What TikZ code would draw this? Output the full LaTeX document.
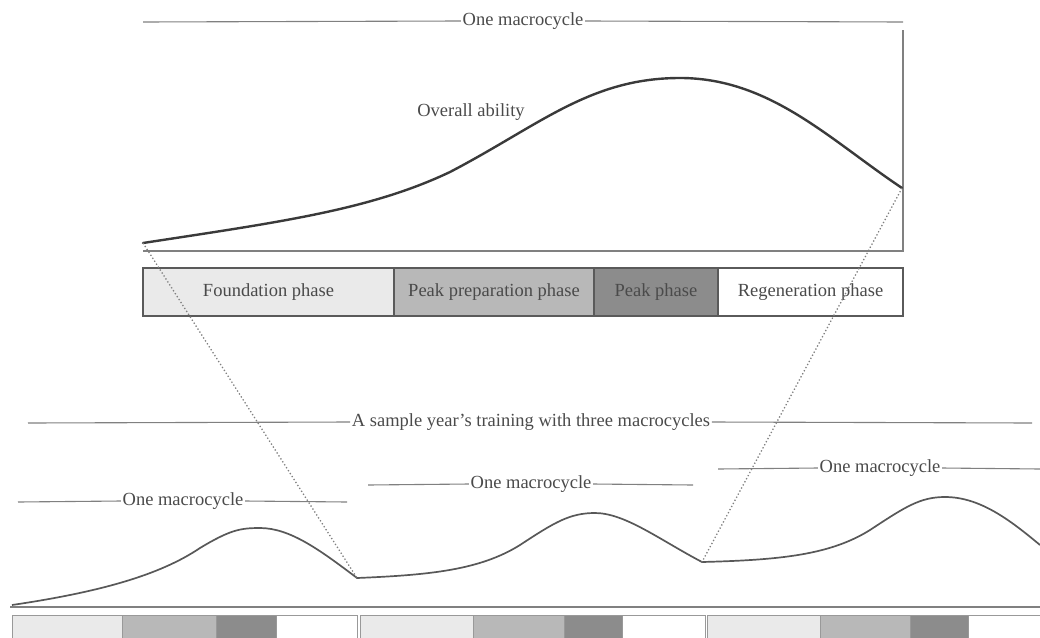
\documentclass[tikz,border=0pt]{standalone}
\usepackage{fontspec}
\setmainfont{Liberation Serif}
\definecolor{txtgray}{HTML}{4A4A4A}
\definecolor{rulegray}{HTML}{808080}
\definecolor{curvegray}{HTML}{3A3A3A}
\definecolor{lightph}{HTML}{EAEAEA}
\definecolor{midph}{HTML}{B8B8B8}
\definecolor{darkph}{HTML}{8C8C8C}
\definecolor{boxline}{HTML}{5A5A5A}
\begin{document}
\begin{tikzpicture}[x=1pt,y=-1pt,
  lbl/.style={text=txtgray, font=\fontsize{18.5}{20}\selectfont, inner sep=1.5pt},
  rule/.style={draw=rulegray, line width=1.1pt},
  ability/.style={draw=curvegray, line width=2.4pt, line cap=round},
  yearcurve/.style={draw=curvegray!85, line width=1.7pt, line join=miter},
  phasebox/.style={draw=boxline, line width=1.4pt},
  cyclebox/.style={draw=rulegray!80, line width=1pt},
  zoomline/.style={draw=rulegray, line width=1.3pt, dash pattern=on 1.3pt off 2.2pt}
]
\useasboundingbox (0,0) rectangle (1040,637);
\clip (0,0) rectangle (1040,637);

% ---------- one macrocycle, enlarged ----------
\coordinate (mcL) at (143,22);
\coordinate (mcR) at (903,22);
\node[lbl] (mc) at (523,21) {One macrocycle};
\draw[rule] (mcL) -- (mc.west);
\draw[rule] (mc.east) -- (mcR);

\coordinate (axTop) at (903,30);
\coordinate (axCorner) at (903,251);
\coordinate (axLeft) at (143,251);
\draw[rule] (axTop) -- (axCorner) -- (axLeft);

\coordinate (abStart) at (143,243);
\coordinate (abEnd) at (902,188);
\draw[ability] (abStart)
  .. controls (280,222) and (370,210) .. (450,172)
  .. controls (540,125) and (590,78) .. (680,78)
  .. controls (770,78) and (830,140) .. (abEnd);
\node[lbl] (oa) at (471,112) {Overall ability};

% phase bar
\draw[phasebox, fill=lightph] (143,268) rectangle (394,316);
\draw[phasebox, fill=midph]   (394,268) rectangle (594,316);
\draw[phasebox, fill=darkph]  (594,268) rectangle (718,316);
\draw[phasebox, fill=white]   (718,268) rectangle (903,316);
\node[lbl] (ph1) at (268.5,292) {Foundation phase};
\node[lbl] (ph2) at (494,292) {Peak preparation phase};
\node[lbl] (ph3) at (656,292) {Peak phase};
\node[lbl] (ph4) at (810.5,292) {Regeneration phase};

% ---------- a year of three macrocycles ----------
\coordinate (yrL) at (28,423);
\coordinate (yrR) at (1032,423);
\node[lbl] (yr) at (531,422) {A sample year's training with three macrocycles};
\draw[rule] (yrL) -- (yr.west);
\draw[rule] (yr.east) -- (yrR);

\coordinate (m1L) at (18,502);
\coordinate (m1R) at (347,502);
\node[lbl] (m1) at (183,501) {One macrocycle};
\draw[rule] (m1L) -- (m1.west);
\draw[rule] (m1.east) -- (m1R);

\coordinate (m2L) at (368,485);
\coordinate (m2R) at (693,485);
\node[lbl] (m2) at (531,484) {One macrocycle};
\draw[rule] (m2L) -- (m2.west);
\draw[rule] (m2.east) -- (m2R);

\coordinate (m3L) at (718,469);
\coordinate (m3R) at (1040,469);
\node[lbl] (m3) at (880,468) {One macrocycle};
\draw[rule] (m3L) -- (m3.west);
\draw[rule] (m3.east) -- (m3R);

\coordinate (k1) at (357,578);
\coordinate (k2) at (702,562);
\draw[yearcurve] (12,605)
  .. controls (100,592) and (160,575) .. (200,548)
  .. controls (230,530) and (240,528) .. (260,528)
  .. controls (290,528) and (320,550) .. (k1)
  .. controls (430,575) and (480,570) .. (520,545)
  .. controls (555,522) and (570,513) .. (595,513)
  .. controls (625,513) and (660,540) .. (k2)
  .. controls (780,560) and (830,555) .. (870,530)
  .. controls (905,507) and (920,497) .. (945,497)
  .. controls (980,497) and (1010,520) .. (1040,545);

\coordinate (yAxL) at (10,607);
\coordinate (yAxR) at (1040,607);
\draw[rule] (yAxL) -- (yAxR);

% phase strips of the three cycles
\foreach \a/\b/\c/\d/\e in {12/122/216/276/357, 360/473/564/622/705, 707/820/910/968/1045}{
  \draw[cyclebox, fill=lightph] (\a,615) rectangle (\b,640);
  \draw[cyclebox, fill=midph]   (\b,615) rectangle (\c,640);
  \draw[cyclebox, fill=darkph]  (\c,615) rectangle (\d,640);
  \draw[cyclebox, fill=white]   (\d,615) rectangle (\e,640);
}

% zoom guides from the enlarged cycle to the second cycle
\draw[zoomline] (abStart) -- (k1);
\draw[zoomline] (abEnd) -- (k2);
\end{tikzpicture}
\end{document}
